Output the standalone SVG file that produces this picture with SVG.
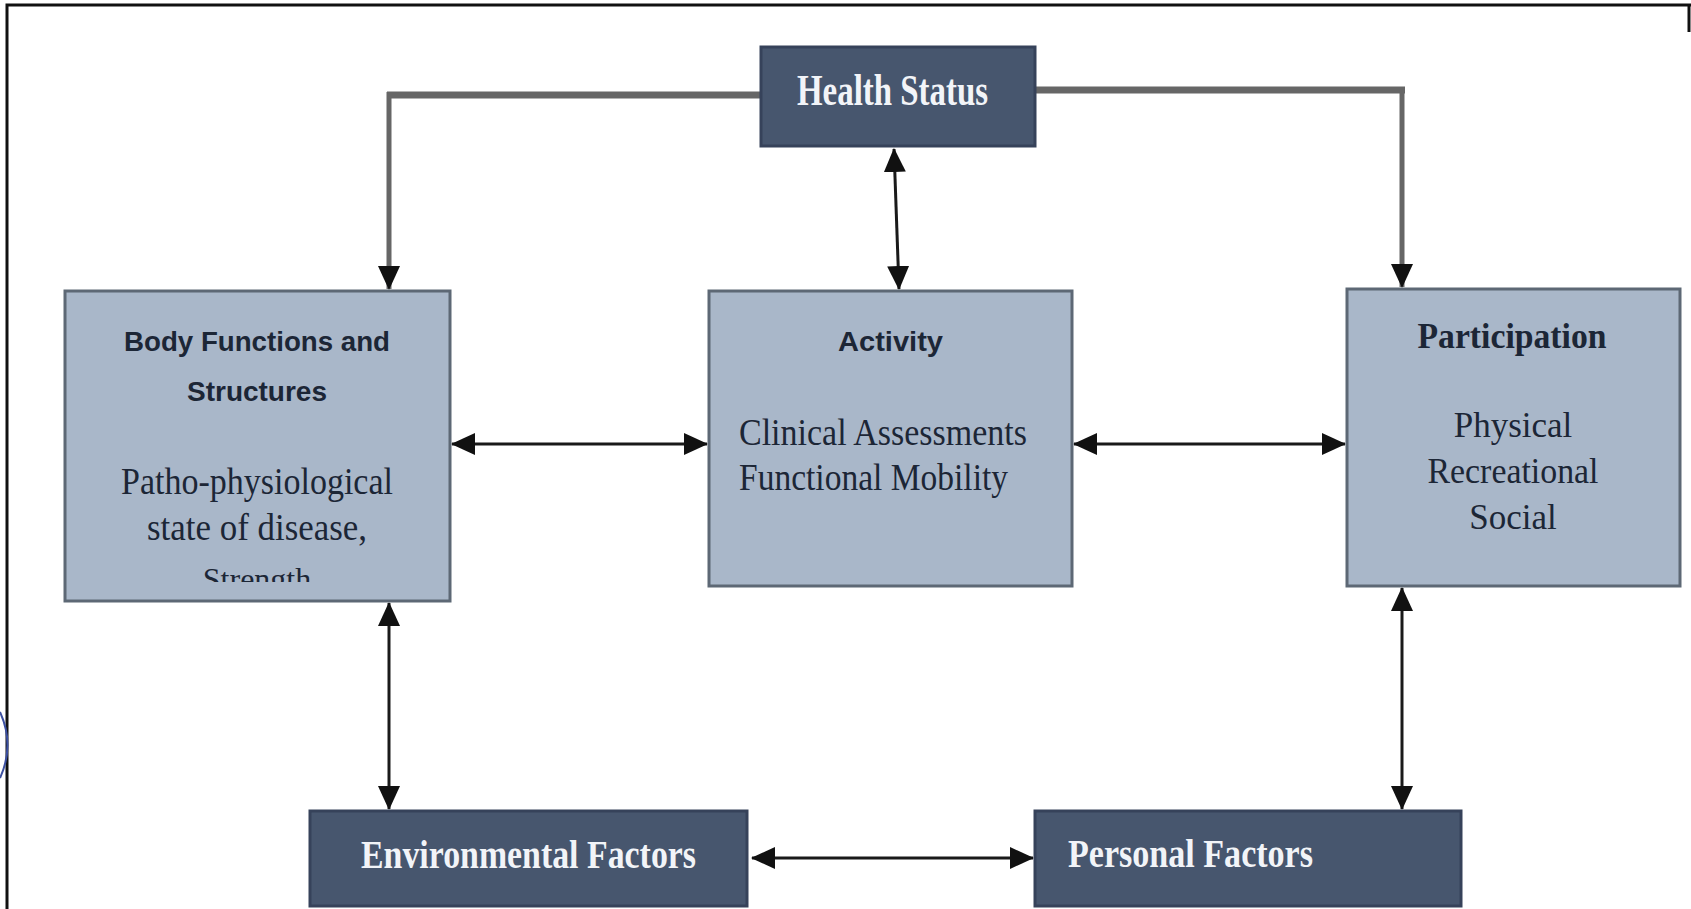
<svg xmlns="http://www.w3.org/2000/svg" width="1691" height="909" viewBox="0 0 1691 909">
<style>
.dark{fill:#47566e;stroke:#36425a;stroke-width:3}
.light{fill:#a9b7c9;stroke:#5d6875;stroke-width:3}
.wt{font-family:"Liberation Serif",serif;font-weight:bold;fill:#f2f4f8}
.hd{font-family:"Liberation Sans",Arial,sans-serif;font-weight:bold;fill:#1c2636}
.sr{font-family:"Liberation Serif",serif;fill:#1c2636}
.srb{font-family:"Liberation Serif",serif;font-weight:bold;fill:#1c2636}
.grey{fill:none;stroke:#666}
.blk{fill:none;stroke:#1a1a1a;stroke-width:3}
</style>
<defs>
<marker id="ah" markerWidth="24" markerHeight="22" refX="23" refY="11" orient="auto-start-reverse" markerUnits="userSpaceOnUse">
<path d="M0,0 L24,11 L0,22 Z" fill="#111"/>
</marker>
<clipPath id="bodyclip"><rect x="65" y="291" width="385" height="291"/></clipPath>
</defs>
<rect width="1691" height="909" fill="#fff"/>
<g id="frame" fill="none" stroke="#111" stroke-width="3">
<path d="M7,909 L7,5 L1691,5"/>
<path d="M1689,5 L1689,32"/>
<path d="M0,712 Q15,745 0,778" stroke="#3b4fa0" stroke-width="2"/>
</g>
<g id="connectors">
<path class="grey" d="M761,95 L387,95" stroke-width="7"/>
<path class="grey" d="M389,92 L389,289" stroke-width="5" marker-end="url(#ah)"/>
<path class="grey" d="M1035,90 L1405,90" stroke-width="7"/>
<path class="grey" d="M1402,87 L1402,287" stroke-width="5" marker-end="url(#ah)"/>
<line class="blk" x1="894" y1="149" x2="899" y2="289" marker-start="url(#ah)" marker-end="url(#ah)"/>
<line class="blk" x1="452" y1="444" x2="707" y2="444" marker-start="url(#ah)" marker-end="url(#ah)"/>
<line class="blk" x1="1074" y1="444" x2="1345" y2="444" marker-start="url(#ah)" marker-end="url(#ah)"/>
<line class="blk" x1="389" y1="603" x2="389" y2="809" marker-start="url(#ah)" marker-end="url(#ah)"/>
<line class="blk" x1="1402" y1="588" x2="1402" y2="809" marker-start="url(#ah)" marker-end="url(#ah)"/>
<line class="blk" x1="752" y1="858" x2="1033" y2="858" marker-start="url(#ah)" marker-end="url(#ah)"/>
</g>
<g id="health">
<rect class="dark" x="761" y="47" width="274" height="99"/>
<text class="wt" x="797" y="105" font-size="44" textLength="191" lengthAdjust="spacingAndGlyphs">Health Status</text>
</g>
<g id="body">
<rect class="light" x="65" y="291" width="385" height="310"/>
<text class="hd" x="124" y="351" font-size="27" textLength="266" lengthAdjust="spacingAndGlyphs">Body Functions and</text>
<text class="hd" x="187" y="401" font-size="27" textLength="140" lengthAdjust="spacingAndGlyphs">Structures</text>
<text class="sr" x="121" y="494" font-size="37" textLength="272" lengthAdjust="spacingAndGlyphs">Patho-physiological</text>
<text class="sr" x="147" y="540" font-size="37" textLength="220" lengthAdjust="spacingAndGlyphs">state of disease,</text>
<g clip-path="url(#bodyclip)"><text class="sr" x="257" y="590" font-size="32" text-anchor="middle">Strength</text></g>
</g>
<g id="activity">
<rect class="light" x="709" y="291" width="363" height="295"/>
<text class="hd" x="838" y="351" font-size="28" textLength="105" lengthAdjust="spacingAndGlyphs">Activity</text>
<text class="sr" x="739" y="445" font-size="37" textLength="288" lengthAdjust="spacingAndGlyphs">Clinical Assessments</text>
<text class="sr" x="739" y="490" font-size="37" textLength="269" lengthAdjust="spacingAndGlyphs">Functional Mobility</text>
</g>
<g id="participation">
<rect class="light" x="1347" y="289" width="333" height="297"/>
<text class="srb" x="1512" y="348" font-size="36" text-anchor="middle" textLength="189" lengthAdjust="spacingAndGlyphs">Participation</text>
<text class="sr" x="1513" y="437" font-size="35" text-anchor="middle">Physical</text>
<text class="sr" x="1513" y="483" font-size="35" text-anchor="middle" textLength="171" lengthAdjust="spacingAndGlyphs">Recreational</text>
<text class="sr" x="1513" y="529" font-size="35" text-anchor="middle">Social</text>
</g>
<g id="environmental">
<rect class="dark" x="310" y="811" width="437" height="95"/>
<text class="wt" x="361" y="868" font-size="40" textLength="335" lengthAdjust="spacingAndGlyphs">Environmental Factors</text>
</g>
<g id="personal">
<rect class="dark" x="1035" y="811" width="426" height="95"/>
<text class="wt" x="1068" y="867" font-size="40" textLength="245" lengthAdjust="spacingAndGlyphs">Personal Factors</text>
</g>
</svg>
